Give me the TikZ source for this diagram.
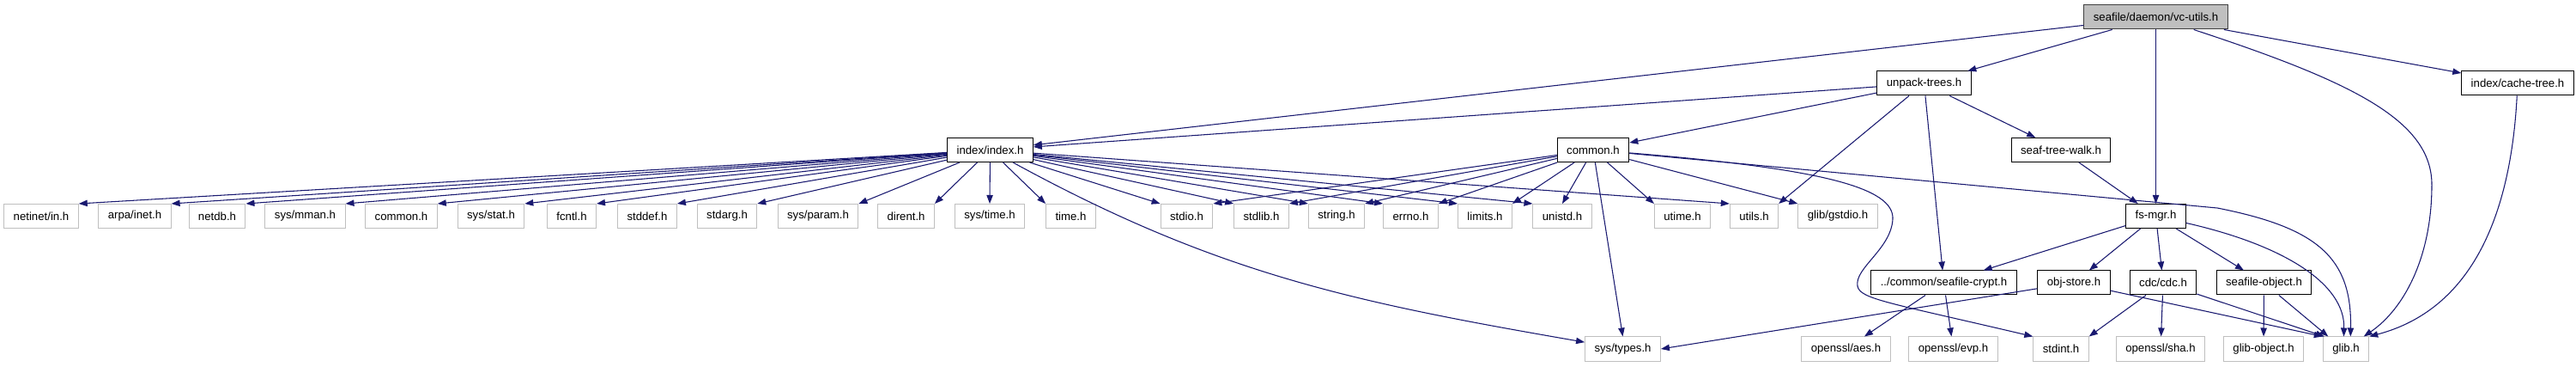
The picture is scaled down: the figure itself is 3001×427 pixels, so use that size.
\documentclass[tikz,border=0pt]{standalone}
\usepackage{fontspec}
\setmainfont{Liberation Sans}
\usetikzlibrary{arrows.meta}
\definecolor{depblue}{HTML}{191970}
\definecolor{boxgray}{HTML}{BFBFBF}
\definecolor{rootedge}{HTML}{404040}
\tikzset{
  filebox/.style={draw=black, line width=0.75pt, fill=white, font=\fontsize{9.9pt}{12pt}\selectfont,
                  inner xsep=8.2pt, inner ysep=0pt, minimum height=21pt},
  sysbox/.style={filebox, draw=boxgray},
  rootbox/.style={filebox, fill=boxgray, draw=rootedge},
  dep/.style={draw=depblue, line width=0.8pt, -{Triangle[length=7.5pt,width=5.5pt]}}
}
\begin{document}
\begin{tikzpicture}[x=0.75pt,y=-0.75pt]
                    \path[fill=white] (0,0) rectangle (3001,427);

                    \node[rootbox] (vcutils) at (2511.5,20) {seafile/daemon/vc-utils.h};
                    \node[filebox] (unpacktrees) at (2241.5,97) {unpack-trees.h};
                    \node[filebox] (cachetree) at (2933,97) {index/cache-tree.h};
                    \node[filebox] (indexh) at (1153.5,174.5) {index/index.h};
                    \node[filebox] (commonh) at (1856,174.5) {common.h};
                    \node[filebox] (seaftreewalk) at (2401,174.5) {seaf-tree-walk.h};

                    \node[sysbox] (netinet) at (48,251.5) {netinet/in.h};
                    \node[sysbox] (arpainet) at (157,251.5) {arpa/inet.h};
                    \node[sysbox] (netdb) at (253,251.5) {netdb.h};
                    \node[sysbox] (sysmman) at (355.5,251.5) {sys/mman.h};
                    \node[sysbox] (commonleaf) at (467.5,251.5) {common.h};
                    \node[sysbox] (sysstat) at (572,251.5) {sys/stat.h};
                    \node[sysbox] (fcntl) at (666,251.5) {fcntl.h};
                    \node[sysbox] (stddef) at (754,251.5) {stddef.h};
                    \node[sysbox] (stdarg) at (847,251.5) {stdarg.h};
                    \node[sysbox] (sysparam) at (953,251.5) {sys/param.h};
                    \node[sysbox] (dirent) at (1055.5,251.5) {dirent.h};
                    \node[sysbox] (systime) at (1153,251.5) {sys/time.h};
                    \node[sysbox] (timeh) at (1247.5,251.5) {time.h};
                    \node[sysbox] (stdio) at (1382.5,251.5) {stdio.h};
                    \node[sysbox] (stdlib) at (1469.5,251.5) {stdlib.h};
                    \node[sysbox] (stringh) at (1557,251.5) {string.h};
                    \node[sysbox] (errno) at (1643.5,251.5) {errno.h};
                    \node[sysbox] (limits) at (1730,251.5) {limits.h};
                    \node[sysbox] (unistd) at (1820,251.5) {unistd.h};
                    \node[sysbox] (utime) at (1960,251.5) {utime.h};
                    \node[sysbox] (utils) at (2043.5,251.5) {utils.h};
                    \node[sysbox] (gstdio) at (2141,251.5) {glib/gstdio.h};
                    \node[filebox] (fsmgr) at (2511.5,251.5) {fs-mgr.h};

                    \node[filebox] (seafcrypt) at (2264.5,329) {../common/seafile-crypt.h};
                    \node[filebox] (objstore) at (2416,329) {obj-store.h};
                    \node[filebox] (cdc) at (2520,329) {cdc/cdc.h};
                    \node[filebox] (seafobject) at (2637.5,329) {seafile-object.h};

                    \node[sysbox] (systypes) at (1890.5,406) {sys/types.h};
                    \node[sysbox] (aes) at (2150.5,406) {openssl/aes.h};
                    \node[sysbox] (evp) at (2275.5,406) {openssl/evp.h};
                    \node[sysbox] (stdint) at (2401,406) {stdint.h};
                    \node[sysbox] (sha) at (2517,406) {openssl/sha.h};
                    \node[sysbox] (glibobject) at (2637,406) {glib-object.h};
                    \node[sysbox] (glibh) at (2733,406) {glib.h};

                    \draw[dep] (vcutils) -- (indexh);
                    \draw[dep] (vcutils) -- (unpacktrees);
                    \draw[dep] (vcutils) -- (fsmgr);
                    \draw[dep] (vcutils) -- (cachetree);
                    \draw[dep] (vcutils) .. controls (2740,95) and (2833,140) .. (2833,215)
                                         .. controls (2833,300) and (2800,360) .. (glibh.35);

                    \draw[dep] (unpacktrees) -- (indexh);
                    \draw[dep] (unpacktrees) -- (commonh);
                    \draw[dep] (unpacktrees) -- (utils.north east);
                    \draw[dep] (unpacktrees) -- (seaftreewalk);
                    \draw[dep] (unpacktrees) -- (seafcrypt);
                    \draw[dep] (cachetree) .. controls (2925,250) and (2880,360) .. (glibh.north east);

                    \draw[dep] (indexh) -- (netinet.north east);
                    \draw[dep] (indexh) -- (arpainet.north east);
                    \draw[dep] (indexh) -- (netdb.north east);
                    \draw[dep] (indexh) -- (sysmman.north east);
                    \draw[dep] (indexh) -- (commonleaf.north east);
                    \draw[dep] (indexh) -- (sysstat.north east);
                    \draw[dep] (indexh) -- (fcntl.north east);
                    \draw[dep] (indexh) -- (stddef.north east);
                    \draw[dep] (indexh) -- (stdarg.north east);
                    \draw[dep] (indexh) -- (sysparam.north east);
                    \draw[dep] (indexh) -- (dirent.north east);
                    \draw[dep] (indexh) -- (systime.north);
                    \draw[dep] (indexh) -- (timeh.north west);
                    \draw[dep] (indexh) -- (stdio.north west);
                    \draw[dep] (indexh) -- (stdlib.north west);
                    \draw[dep] (indexh) -- (stringh.north west);
                    \draw[dep] (indexh) -- (errno.north west);
                    \draw[dep] (indexh) -- (limits.north west);
                    \draw[dep] (indexh) -- (unistd.north west);
                    \draw[dep] (indexh) -- (utils.north west);
                    \draw[dep] (indexh) .. controls (1420,320) and (1580,352) .. (systypes.170);

                    \draw[dep] (commonh) -- (stdio.north east);
                    \draw[dep] (commonh) -- (stdlib.north east);
                    \draw[dep] (commonh) -- (stringh.north east);
                    \draw[dep] (commonh) -- (errno.north east);
                    \draw[dep] (commonh) -- (limits.north east);
                    \draw[dep] (commonh) -- (unistd.north);
                    \draw[dep] (commonh) -- (systypes.north);
                    \draw[dep] (commonh) -- (utime.north west);
                    \draw[dep] (commonh) -- (gstdio.north west);
                    \draw[dep] (commonh) -- (2583,242) .. controls (2700,265) and (2740,300) .. (glibh.70);
                    \draw[dep] (commonh) .. controls (2120,196) and (2207,218) .. (2205,255)
                                         .. controls (2203,290) and (2160,312) .. (2164,333)
                                         .. controls (2167,348) and (2200,352) .. (stdint.north west);

                    \draw[dep] (seaftreewalk) -- (fsmgr);
                    \draw[dep] (fsmgr) -- (seafcrypt);
                    \draw[dep] (fsmgr) -- (objstore);
                    \draw[dep] (fsmgr) -- (cdc);
                    \draw[dep] (fsmgr) -- (seafobject);
                    \draw[dep] (fsmgr) .. controls (2660,285) and (2732,330) .. (glibh.100);

                    \draw[dep] (seafcrypt) -- (aes);
                    \draw[dep] (seafcrypt) -- (evp);
                    \draw[dep] (objstore) -- (systypes.east);
                    \draw[dep] (objstore) -- (glibh.north west);
                    \draw[dep] (cdc) -- (stdint.north east);
                    \draw[dep] (cdc) -- (sha);
                    \draw[dep] (cdc) -- (glibh.150);
                    \draw[dep] (seafobject) -- (glibobject);
                    \draw[dep] (seafobject) -- (glibh.145);

                \end{tikzpicture}
\end{document}
